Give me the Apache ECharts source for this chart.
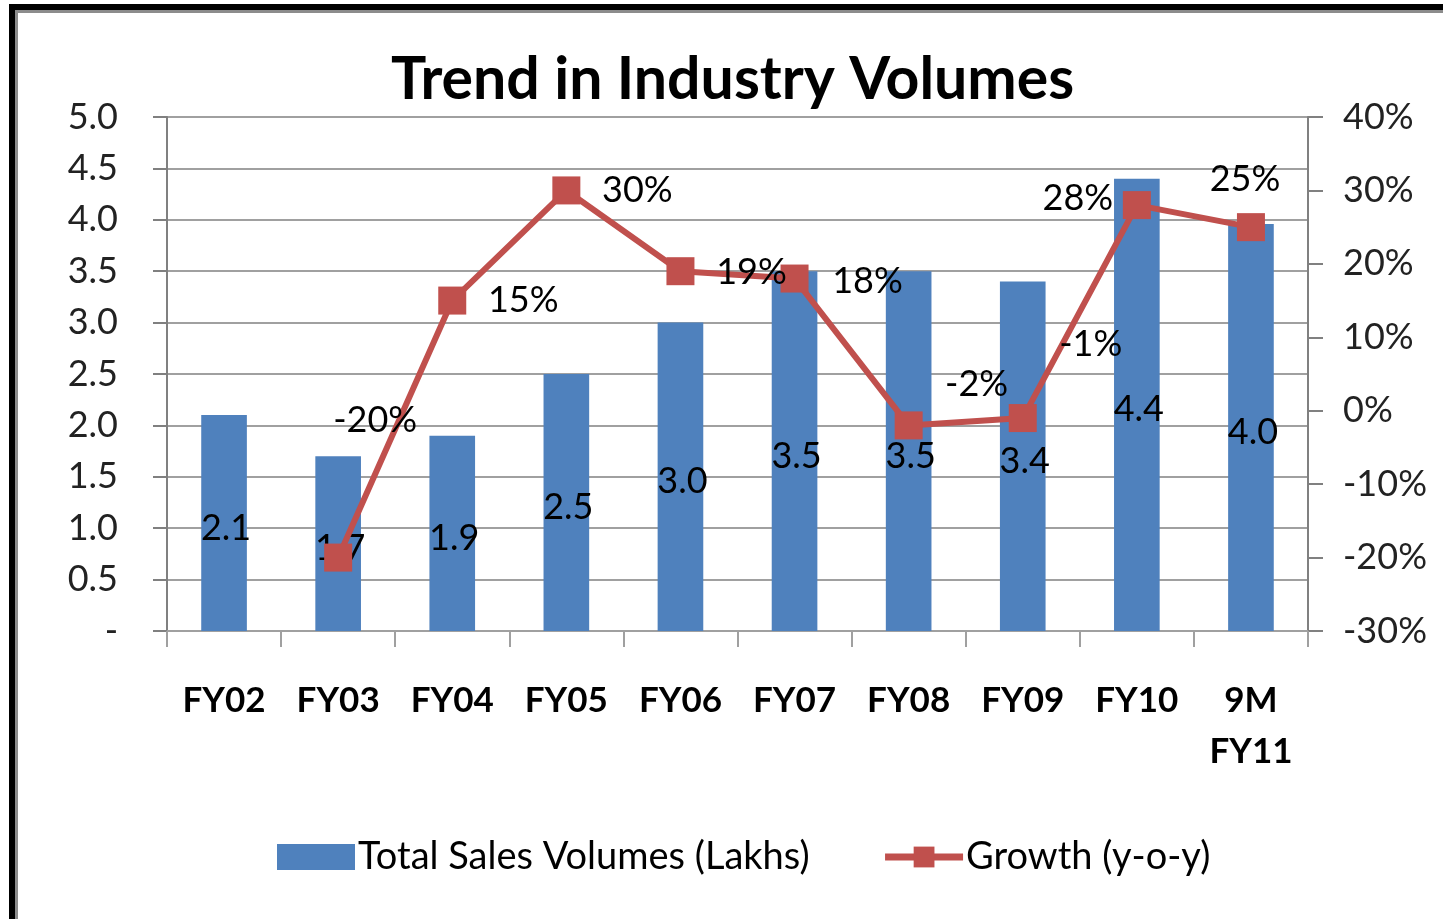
<!DOCTYPE html>
<html>
<head>
<meta charset="utf-8">
<script src="https://cdn.jsdelivr.net/npm/echarts@6/dist/echarts.min.js"></script>
<style>
  html, body { margin: 0; padding: 0; background: #fff; }
  #main { width: 1443px; height: 919px; }
</style>
</head>
<body>
<div id="main"></div>
<script>
// chart data
const categories = ['FY02', 'FY03', 'FY04', 'FY05', 'FY06', 'FY07', 'FY08', 'FY09', 'FY10', '9M\nFY11'];
const salesVolumes = [2.1, 1.7, 1.9, 2.5, 3.0, 3.5, 3.5, 3.4, 4.4, 3.96];
const growthPct = [null, -20, 15, 30, 19, 18, -2, -1, 28, 25];
const seriesNames = ['Total Sales Volumes (Lakhs)', 'Growth (y-o-y)'];

// where each growth label sits relative to its marker (dx, dy)
const growthLabelOffsets = [
  null, [37, -137], [71, 0], [71, 0], [71, 1], [73, 3], [68, -41], [68, -74], [-59, -7], [-6, -48]
];

const FONT = 'Lato';
const chart = echarts.init(document.getElementById('main'));

const growthData = growthPct.map((v, i) => {
  if (v === null) return '-';
  const off = growthLabelOffsets[i];
  return { value: v, label: { position: 'inside', offset: off } };
});

const option = {
  backgroundColor: '#fff',
  animation: false,
  textStyle: { fontFamily: FONT },
  title: {
    text: 'Trend in Industry Volumes',
    left: 386,
    top: 45,
    textStyle: { fontFamily: FONT, fontSize: 59, fontWeight: 'bold', color: '#000' }
  },
  graphic: [
    { type: 'rect', shape: { x: 12, y: 7, width: 1500, height: 1000 },
      style: { fill: 'none', stroke: '#000', lineWidth: 6 }, silent: true },
    { type: 'rect', shape: { x: 16.5, y: 11.5, width: 1500, height: 1000 },
      style: { fill: 'none', stroke: '#8c8c8c', lineWidth: 3 }, silent: true }
  ],
  legend: {
    bottom: 38,
    left: 272,
    itemWidth: 78,
    itemHeight: 26,
    itemGap: 72,
    textStyle: { fontFamily: FONT, fontSize: 38, color: '#000', padding: [0, 0, 0, -2] },
    data: [
      { name: seriesNames[0], icon: 'rect', itemStyle: { color: '#4F81BD' } },
      { name: seriesNames[1], lineStyle: { width: 7, color: '#C0504D' } }
    ]
  },
  grid: { left: 167, right: 135, top: 117, bottom: 288 },
  xAxis: {
    type: 'category',
    data: categories,
    axisLine: { lineStyle: { color: '#a0a0a0', width: 2 } },
    axisTick: { show: true, length: 16, lineStyle: { color: '#a0a0a0', width: 2 } },
    axisLabel: {
      margin: 44, fontFamily: FONT, fontSize: 35, fontWeight: 'bold',
      color: '#000', lineHeight: 51, interval: 0
    }
  },
  yAxis: [
    {
      type: 'value', min: 0, max: 5, interval: 0.5,
      axisLine: { show: true, lineStyle: { color: '#808080', width: 2 } },
      axisTick: { show: true, length: 14, lineStyle: { color: '#808080', width: 2 } },
      splitLine: { lineStyle: { color: '#a0a0a0', width: 2 } },
      axisLabel: {
        margin: 49, fontFamily: FONT, fontSize: 36, color: '#222',
        formatter: v => (v === 0 ? '-' : v.toFixed(1))
      }
    },
    {
      type: 'value', min: -30, max: 40, interval: 10,
      axisLine: { show: true, lineStyle: { color: '#808080', width: 2 } },
      axisTick: { show: true, length: 15, lineStyle: { color: '#808080', width: 2 } },
      splitLine: { show: false },
      axisLabel: { margin: 35, fontFamily: FONT, fontSize: 36, color: '#222', formatter: '{value}%' }
    }
  ],
  series: [
    {
      name: seriesNames[0],
      type: 'bar',
      data: salesVolumes,
      barWidth: '40%',
      itemStyle: { color: '#4F81BD' },
      label: {
        show: true, position: 'inside', offset: [2, 5], color: '#000',
        fontFamily: FONT, fontSize: 36,
        formatter: p => p.value.toFixed(1)
      }
    },
    {
      name: seriesNames[1],
      type: 'line',
      yAxisIndex: 1,
      data: growthData,
      symbol: 'rect',
      symbolSize: 28,
      lineStyle: { color: '#C0504D', width: 6 },
      itemStyle: { color: '#C0504D' },
      label: {
        show: true, color: '#000', fontFamily: FONT, fontSize: 36,
        formatter: p => p.value + '%'
      },
      z: 3
    }
  ]
};

chart.setOption(option);
</script>
</body>
</html>
